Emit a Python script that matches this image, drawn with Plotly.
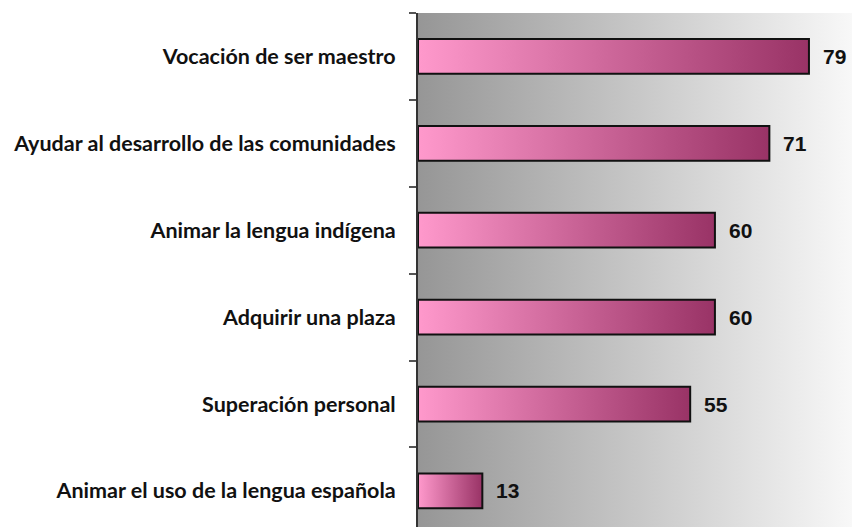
import base64
import plotly.graph_objects as go

categories = [
    "Vocación de ser maestro",
    "Ayudar al desarrollo de las comunidades",
    "Animar la lengua indígena",
    "Adquirir una plaza",
    "Superación personal",
    "Animar el uso de la lengua española",
]
values = [79, 71, 60, 60, 55, 13]

bar_half = 0.2
fig = go.Figure()

for i, v in enumerate(values):
    fig.add_trace(go.Scatter(
        x=[0, v, v, 0, 0],
        y=[i - bar_half, i - bar_half, i + bar_half, i + bar_half, i - bar_half],
        mode="lines",
        fill="toself",
        fillgradient=dict(type="horizontal",
                          colorscale=[[0, "#FF99CC"], [1, "#993366"]]),
        line=dict(color="#111111", width=2),
        hoverinfo="skip",
        showlegend=False,
    ))
    fig.add_annotation(
        x=v, y=i, text=str(v), showarrow=False, xanchor="left", xshift=12,
        font=dict(family="Liberation Sans", size=21, color="#111111", weight="bold"),
    )

svg = ('<svg xmlns="http://www.w3.org/2000/svg" width="200" height="10" preserveAspectRatio="none">'
       '<defs><linearGradient id="g" x1="0" y1="0" x2="1" y2="0">'
       '<stop offset="0" stop-color="#969696"/><stop offset="1" stop-color="#f8f8f8"/>'
       '</linearGradient></defs><rect width="200" height="10" fill="url(#g)"/></svg>')
src = "data:image/svg+xml;base64," + base64.b64encode(svg.encode()).decode()
fig.add_layout_image(dict(source=src, xref="paper", yref="paper", x=0, y=1,
                          sizex=1, sizey=1, xanchor="left", yanchor="top",
                          sizing="stretch", layer="below"))

fig.update_layout(
    width=852, height=527,
    margin=dict(l=418, r=0, t=13, b=0),
    paper_bgcolor="white", plot_bgcolor="rgba(0,0,0,0)",
    font=dict(family="Lato", size=21, color="#111111"),
)
fig.update_xaxes(range=[0, 87.7], showgrid=False, zeroline=False,
                 showticklabels=False, ticks="", showline=False)
fig.update_yaxes(
    range=[5.415, -0.5], showgrid=False, zeroline=False,
    tickvals=list(range(len(categories))), ticktext=categories,
    ticks="", ticklabelstandoff=16,
    tickfont=dict(family="Lato", size=21.5, color="#111111", weight="bold"),
    showline=True, linecolor="#333333", linewidth=2,
    minor=dict(tickvals=[k - 0.5 for k in range(len(categories))],
               ticks="outside", ticklen=7, tickcolor="#555555", tickwidth=1.5),
)

fig.write_html("out.html", config={"displayModeBar": False},
               post_script="document.body.style.margin='0';")
